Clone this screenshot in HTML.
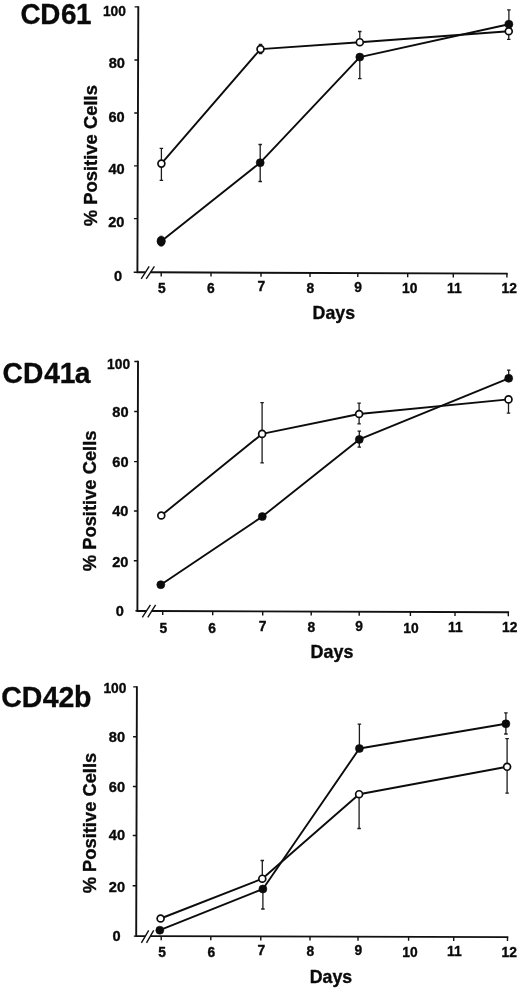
<!DOCTYPE html>
<html lang="en">
<head>
<meta charset="utf-8">
<title>CD61 / CD41a / CD42b expression, % positive cells over days</title>
<style>
html,body{margin:0;padding:0;background:#fff;}
body{width:520px;height:989px;overflow:hidden;}
svg{display:block;}
text{font-family:"Liberation Sans", sans-serif;font-weight:bold;fill:#0a0a0a;stroke:#0a0a0a;stroke-width:0.35;}
.ax{stroke:#111;stroke-width:1.9;fill:none;stroke-linecap:butt;stroke-linejoin:miter;}
.tk{stroke:#111;stroke-width:1.4;fill:none;}
.ln{stroke:#0c0c0c;stroke-width:1.9;fill:none;stroke-linejoin:round;}
.eb{stroke:#1c1c1c;stroke-width:1.3;fill:none;}
.eb2{stroke:#111;stroke-width:2.2;fill:none;}
.op{fill:#fff;stroke:#0c0c0c;stroke-width:1.7;}
.fl{fill:#0c0c0c;stroke:#0c0c0c;stroke-width:0.6;}
.t{font-size:30px;}
.yl{font-size:18.8px;}
.dl{font-size:18.4px;}
.n{font-size:14.6px;}
.nx{font-size:13.8px;}
</style>
</head>
<body>
<svg width="520" height="989" viewBox="0 0 520 989">
<rect width="520" height="989" fill="#fff"/>
<g>
<text class="t" transform="translate(20.2 24.3) scale(0.9267 1)" dx="0.3 -0.3 0.6 -0.5">CD61</text>
<path class="ax" d="M138.3 6.2 L137.4 272.3 L145.36 272.3 M150.46 272.3 L507.7 273.6"/>
<path class="tk" d="M134.6 6.9H138.3M134.42 60H138.12M134.24 113H137.94M134.06 165.9H137.76M133.88 218.6H137.58M133.7 272.3H137.4M161.2 272.38V276.38M211 272.56V276.56M261 272.73V276.73M310 272.91V276.91M357.8 273.07V277.07M407.7 273.25V277.25M453.3 273.41V277.41M506.9 273.6V277.6"/>
<path class="tk" d="M141.2 278.8L149.2 266.3M146.2 278.8L154.4 266.3"/>
<text class="n" text-anchor="end" x="125.9" y="15.5" textLength="23" lengthAdjust="spacingAndGlyphs">100</text>
<text class="n" text-anchor="end" x="124.9" y="68.3">80</text>
<text class="n" text-anchor="end" x="124.7" y="121.5">60</text>
<text class="n" text-anchor="end" x="124.7" y="174.3">40</text>
<text class="n" text-anchor="end" x="124.4" y="227.3">20</text>
<text class="n" text-anchor="end" x="122.2" y="280.5">0</text>
<text class="nx" text-anchor="middle" x="161.9" y="292.9">5</text>
<text class="nx" text-anchor="middle" x="210.9" y="292.8">6</text>
<text class="nx" text-anchor="middle" x="261.3" y="290.8">7</text>
<text class="nx" text-anchor="middle" x="310.3" y="292.9">8</text>
<text class="nx" text-anchor="middle" x="358.2" y="292.2">9</text>
<text class="nx" text-anchor="middle" x="409.8" y="293.2">10</text>
<text class="nx" text-anchor="middle" x="454.4" y="292.5">11</text>
<text class="nx" text-anchor="middle" x="509.2" y="293.2">12</text>
<text class="yl" transform="translate(97 226.2) rotate(-90)" textLength="141.1" lengthAdjust="spacingAndGlyphs">% Positive Cells</text>
<text class="dl" style="font-size:19px" x="312.6" y="318.8" textLength="42.4" lengthAdjust="spacingAndGlyphs">Days</text>
<path class="eb" d="M161.4 163.6V148.4M159.65 148.4H163.15M161.4 163.6V180.4M159.65 180.4H163.15M260.5 49.1V44.5M258.75 44.5H262.25M260.5 49.1V53.6M258.75 53.6H262.25M359.8 42.2V31.5M358.05 31.5H361.55M508.75 31.25V39.4M507 39.4H510.5M260.2 162.7V144.5M258.45 144.5H261.95M260.2 162.7V181.5M258.45 181.5H261.95M359.8 57.1V78.7M358.05 78.7H361.55M508.9 24.2V9.8M507.15 9.8H510.65"/>
<polyline class="ln" points="161.2,241.2 260.2,162.7 359.8,57.1 508.9,24.2"/>
<polyline class="ln" points="161.4,163.6 260.5,49.1 359.8,42.2 508.75,31.25"/>
<circle class="fl" cx="161.2" cy="241.2" r="4.0"/>
<circle class="fl" cx="260.2" cy="162.7" r="4.0"/>
<circle class="fl" cx="359.8" cy="57.1" r="4.0"/>
<circle class="fl" cx="508.9" cy="24.2" r="4.0"/>
<ellipse class="fl" cx="161.2" cy="241.1" rx="4" ry="5.2"/>
<circle class="op" cx="161.4" cy="163.6" r="3.45"/>
<circle class="op" cx="260.5" cy="49.1" r="3.45"/>
<circle class="op" cx="359.8" cy="42.2" r="3.45"/>
<circle class="op" cx="508.75" cy="31.25" r="3.45"/>
</g>
<g>
<text class="t" transform="translate(2.6 382.6) scale(0.9400 1)" dx="0 0 1.0 -0.2 -0.8">CD41a</text>
<path class="ax" d="M138 360.8 L137.4 611 L146.45 611 M151.79 611 L509.1 612.3"/>
<path class="tk" d="M134.3 361.5H138M134.18 411.5H137.88M134.06 461.6H137.76M133.94 511H137.64M133.82 560.7H137.52M135.4 610.8H137.4M162.7 611.09V615.09M212.7 611.26V615.26M262.7 611.44V615.44M311.2 611.61V615.61M359.2 611.78V615.78M410.4 611.95V615.95M455 612.11V616.11M508.3 612.3V616.3"/>
<path class="tk" d="M142.3 617.4L150.4 604.9M147.8 617.4L155.6 604.9"/>
<text class="n" text-anchor="end" x="130.1" y="368.5" textLength="23" lengthAdjust="spacingAndGlyphs">100</text>
<text class="n" text-anchor="end" x="128.6" y="416.8">80</text>
<text class="n" text-anchor="end" x="128.6" y="467.1">60</text>
<text class="n" text-anchor="end" x="128.4" y="515.8">40</text>
<text class="n" text-anchor="end" x="128.4" y="567.4">20</text>
<text class="n" text-anchor="end" x="123.8" y="615.6">0</text>
<text class="nx" text-anchor="middle" x="163.3" y="632.8">5</text>
<text class="nx" text-anchor="middle" x="212.2" y="632.8">6</text>
<text class="nx" text-anchor="middle" x="262.7" y="630.8">7</text>
<text class="nx" text-anchor="middle" x="311.4" y="632.4">8</text>
<text class="nx" text-anchor="middle" x="359" y="630.8">9</text>
<text class="nx" text-anchor="middle" x="411" y="632.6">10</text>
<text class="nx" text-anchor="middle" x="455.4" y="631.9">11</text>
<text class="nx" text-anchor="middle" x="509.8" y="632.4">12</text>
<text class="yl" transform="translate(95.5 571.2) rotate(-90)" textLength="140.7" lengthAdjust="spacingAndGlyphs">% Positive Cells</text>
<text class="dl" style="font-size:17.7px" x="310.6" y="658.2" textLength="42.8" lengthAdjust="spacingAndGlyphs">Days</text>
<path class="eb" d="M262.1 433.9V402.7M260.35 402.7H263.85M262.1 433.9V462.9M260.35 462.9H263.85M359.1 414V403.1M357.35 403.1H360.85M359.1 414V423.8M357.35 423.8H360.85M508.5 399.4V413.2M506.75 413.2H510.25M359.3 439.4V431.1M357.55 431.1H361.05M359.3 439.4V447.2M357.55 447.2H361.05M508.7 378.3V370.2M506.95 370.2H510.45"/>
<polyline class="ln" points="160.8,584.7 262.3,516.6 359.3,439.4 508.7,378.3"/>
<polyline class="ln" points="161.3,515.5 262.1,433.9 359.1,414 508.5,399.4"/>
<circle class="fl" cx="160.8" cy="584.7" r="4.0"/>
<circle class="fl" cx="262.3" cy="516.6" r="4.0"/>
<circle class="fl" cx="359.3" cy="439.4" r="4.0"/>
<circle class="fl" cx="508.7" cy="378.3" r="4.0"/>
<circle class="op" cx="161.3" cy="515.5" r="3.45"/>
<circle class="op" cx="262.1" cy="433.9" r="3.45"/>
<circle class="op" cx="359.1" cy="414" r="3.45"/>
<circle class="op" cx="508.5" cy="399.4" r="3.45"/>
</g>
<g>
<text class="t" transform="translate(1.2 706.8) scale(0.9500 1)" dx="0 0 0.4 0 -0.5">CD42b</text>
<path class="ax" d="M136.9 686.2 L136.2 936.1 L145.31 936.1 M150.36 936.1 L508.3 937.1"/>
<path class="tk" d="M133.2 686.9H136.9M133.06 736.8H136.76M132.92 786.5H136.62M132.78 835.5H136.48M132.64 885.7H136.34M133.8 936.1H136.2M161.2 936.17V940.17M210.8 936.3V940.3M260.8 936.43V940.43M310 936.57V940.57M358 936.7V940.7M408.6 936.83V940.83M453.7 936.95V940.95M507.5 937.1V941.1"/>
<path class="tk" d="M141.4 942.8L148.7 930.3M146.5 942.8L153.7 930.3"/>
<text class="n" text-anchor="end" x="126.4" y="693.2" textLength="23" lengthAdjust="spacingAndGlyphs">100</text>
<text class="n" text-anchor="end" x="125.1" y="741.8">80</text>
<text class="n" text-anchor="end" x="125.1" y="791.8">60</text>
<text class="n" text-anchor="end" x="125.1" y="840.2">40</text>
<text class="n" text-anchor="end" x="125.1" y="892.1">20</text>
<text class="n" text-anchor="end" x="120.5" y="940.6">0</text>
<text class="nx" text-anchor="middle" x="162.1" y="957">5</text>
<text class="nx" text-anchor="middle" x="211.3" y="957">6</text>
<text class="nx" text-anchor="middle" x="261.3" y="955.2">7</text>
<text class="nx" text-anchor="middle" x="310.4" y="956.4">8</text>
<text class="nx" text-anchor="middle" x="358.4" y="955">9</text>
<text class="nx" text-anchor="middle" x="410" y="956.6">10</text>
<text class="nx" text-anchor="middle" x="454.4" y="956.4">11</text>
<text class="nx" text-anchor="middle" x="509.2" y="957">12</text>
<text class="yl" transform="translate(95.5 893.3) rotate(-90)" textLength="140.5" lengthAdjust="spacingAndGlyphs">% Positive Cells</text>
<text class="dl" style="font-size:17.7px" x="309.8" y="983" textLength="42.4" lengthAdjust="spacingAndGlyphs">Days</text>
<path class="eb" d="M262.3 878.7V860.5M260.55 860.5H264.05M359.1 794.2V828.5M357.35 828.5H360.85M507.1 766.8V738.6M505.35 738.6H508.85M507.1 766.8V793.2M505.35 793.2H508.85M262.9 889V909M261.15 909H264.65M359.4 748.5V724.2M357.65 724.2H361.15M505.9 723.8V712.8M504.15 712.8H507.65M505.9 723.8V734M504.15 734H507.65"/>
<polyline class="ln" points="159.8,930.2 262.9,889 359.4,748.5 505.9,723.8"/>
<polyline class="ln" points="160.6,918.5 262.3,878.7 359.1,794.2 507.1,766.8"/>
<circle class="fl" cx="159.8" cy="930.2" r="4.0"/>
<circle class="fl" cx="262.9" cy="889" r="4.0"/>
<circle class="fl" cx="359.4" cy="748.5" r="4.0"/>
<circle class="fl" cx="505.9" cy="723.8" r="4.0"/>
<circle class="op" cx="160.6" cy="918.5" r="3.45"/>
<circle class="op" cx="262.3" cy="878.7" r="3.45"/>
<circle class="op" cx="359.1" cy="794.2" r="3.45"/>
<circle class="op" cx="507.1" cy="766.8" r="3.45"/>
</g>
</svg>
</body>
</html>
